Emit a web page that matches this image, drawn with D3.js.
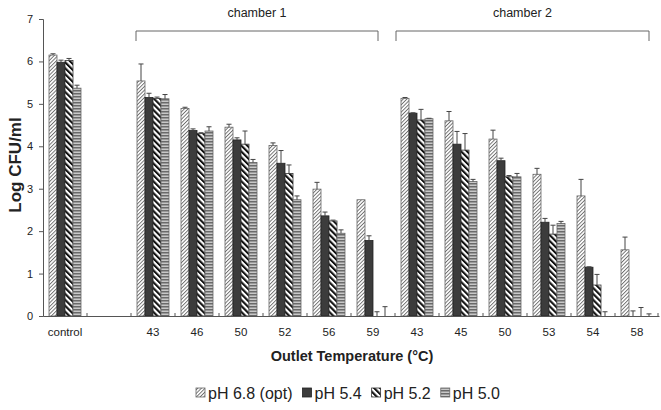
<!DOCTYPE html>
<html><head><meta charset="utf-8">
<script src="https://cdn.jsdelivr.net/npm/d3@7"></script>
<style>body{margin:0;background:#fff}svg{display:block;font-family:Arial,"Liberation Sans",sans-serif}</style>
</head><body><svg id="c" width="661" height="410"></svg>
<script>
const categories = ["control","","43","46","50","52","56","59","43","45","50","53","54","58"];
const seriesNames = ["pH 6.8 (opt)","pH 5.4","pH 5.2","pH 5.0"];
const ph68 = [6.15,null,5.54,4.89,4.45,4.02,2.99,2.74,5.13,4.60,4.17,3.34,2.83,1.56];
const ph68Err = [0.03,null,0.40,0.03,0.07,0.06,0.16,0.0,0.02,0.22,0.21,0.14,0.39,0.30];
const ph54 = [5.98,null,5.15,4.37,4.15,3.60,2.36,1.78,4.78,4.05,3.66,2.21,1.15,0.0];
const ph54Err = [0.05,null,0.10,0.04,0.05,0.30,0.09,0.11,0.01,0.30,0.06,0.09,0.01,0.12];
const ph52 = [6.02,null,5.13,4.30,4.05,3.36,2.24,0.0,4.62,3.91,3.28,1.93,0.73,0.0];
const ph52Err = [0.05,null,0.03,0.02,0.31,0.20,0.02,0.10,0.25,0.39,0.03,0.21,0.25,0.20];
const ph50 = [5.37,null,5.12,4.36,3.62,2.74,1.95,0.0,4.65,3.17,3.28,2.18,0.0,0.0];
const ph50Err = [0.07,null,0.10,0.10,0.07,0.09,0.08,0.22,0.01,0.05,0.08,0.05,0.10,0.05];
const yTicks = [0,1,2,3,4,5,6,7];
const chamberLabels = ["chamber 1","chamber 2"];
const chamberFrom = [2, 8];
const chamberTo = [7, 13];

const values = [ph68, ph54, ph52, ph50];
const errs = [ph68Err, ph54Err, ph52Err, ph50Err];

const svg = d3.select("#c");
const defs = svg.append("defs");
let p = defs.append("pattern").attr("id","p0").attr("patternUnits","userSpaceOnUse")
  .attr("width",2.6).attr("height",2.6).attr("patternTransform","rotate(45)");
p.append("rect").attr("width",2.6).attr("height",2.6).attr("fill","#fff");
p.append("line").attr("x1",0.5).attr("y1",0).attr("x2",0.5).attr("y2",2.6).attr("stroke","#555").attr("stroke-width",0.8);
p = defs.append("pattern").attr("id","p2").attr("patternUnits","userSpaceOnUse")
  .attr("width",4.2).attr("height",4.2).attr("patternTransform","rotate(-45)");
p.append("rect").attr("width",4.2).attr("height",4.2).attr("fill","#fff");
p.append("rect").attr("x",0).attr("y",0).attr("width",2.1).attr("height",4.2).attr("fill","#111");
p = defs.append("pattern").attr("id","p3").attr("patternUnits","userSpaceOnUse")
  .attr("width",4).attr("height",3);
p.append("rect").attr("width",4).attr("height",3).attr("fill","#c8c8c8");
p.append("rect").attr("y",0).attr("width",4).attr("height",1.5).attr("fill","#6a6a6a");

const fills = ["url(#p0)","#3c3c3c","url(#p2)","url(#p3)"];
const strokes = ["#666","#222","#333","#666"];

const mLeft = 43, mRight = 659, mTop = 19, mBase = 316;
const x = d3.scaleBand().domain(d3.range(categories.length)).range([mLeft,mRight]).padding(0);
const xs = d3.scaleBand().domain(d3.range(4)).range([6, x.bandwidth()-6]).padding(0);
const y = d3.scaleLinear().domain([0,7]).range([mBase, mTop]);

const yAxis = d3.axisLeft(y).tickValues(yTicks).tickSize(4).tickPadding(6).tickFormat(d3.format("d"));
const yg = svg.append("g").attr("transform",`translate(${mLeft},0)`).call(yAxis);
yg.select(".domain").attr("stroke","#555");
yg.selectAll(".tick line").attr("stroke","#555");
yg.selectAll(".tick text").attr("font-size",11).attr("fill","#222");

categories.forEach((c,i)=>{
  if (values[0][i]===null) return;
  const g = svg.append("g").attr("transform",`translate(${x(i)},0)`);
  values.forEach((arr,s)=>{
    const v = arr[i];
    const bx = xs(s), bw = xs.bandwidth();
    g.append("rect").attr("x",bx).attr("y",y(v)).attr("width",bw).attr("height",Math.max(0,y(0)-y(v)))
      .attr("fill",fills[s]).attr("stroke",strokes[s]).attr("stroke-width",0.8);
    const e = errs[s][i];
    if (e>0.005){
      const cx = bx + bw/2;
      g.append("line").attr("x1",cx).attr("x2",cx).attr("y1",y(v)).attr("y2",y(v+e)).attr("stroke","#444").attr("stroke-width",1);
      g.append("line").attr("x1",cx-2.5).attr("x2",cx+2.5).attr("y1",y(v+e)).attr("y2",y(v+e)).attr("stroke","#444").attr("stroke-width",1);
    }
  });
});

const xAxis = d3.axisBottom(x).tickSize(0).tickPadding(12).tickFormat(i=>categories[i]);
const xg = svg.append("g").attr("transform",`translate(0,${mBase})`).call(xAxis);
xg.select(".domain").attr("stroke","#555");
xg.selectAll(".tick text").attr("font-size",11.5).attr("fill","#222");
d3.range(1,categories.length+1).forEach(k=>{
  const tx = k<categories.length ? x(k) : mRight-1;
  svg.append("line").attr("x1",tx).attr("x2",tx).attr("y1",mBase).attr("y2",mBase-3).attr("stroke","#555");
});

const bracketEnds = [[5,27],[1,34]];
chamberLabels.forEach((lab,k)=>{
  const x0 = x(chamberFrom[k])+bracketEnds[k][0], x1 = x(chamberTo[k])+bracketEnds[k][1];
  const by = 31;
  svg.append("path").attr("d",`M${x0},${by+10}V${by}H${x1}V${by+10}`).attr("fill","none").attr("stroke","#666").attr("stroke-width",1);
  svg.append("text").attr("x",(x0+x1)/2).attr("y",17).attr("text-anchor","middle").attr("font-size",12.5).attr("fill","#222").text(lab);
});

svg.append("text").attr("transform","translate(21,165) rotate(-90)").attr("text-anchor","middle")
  .attr("font-size",17).attr("font-weight","bold").attr("fill","#222").text("Log CFU/ml");
svg.append("text").attr("x",352).attr("y",361).attr("text-anchor","middle")
  .attr("font-size",14.5).attr("font-weight","bold").attr("fill","#222").text("Outlet Temperature (°C)");

const lg = svg.append("g").attr("transform","translate(196,393)");
let lx = 0;
seriesNames.forEach((n,s)=>{
  const g = lg.append("g").attr("transform",`translate(${lx},0)`);
  g.append("rect").attr("x",0).attr("y",-5).attr("width",9).attr("height",9).attr("fill",fills[s]).attr("stroke",strokes[s]).attr("stroke-width",0.8);
  const t = g.append("text").attr("x",12).attr("y",5.5).attr("font-size",16).attr("fill","#222").text(n);
  lx += 12 + t.node().getComputedTextLength() + 10;
});
</script></body></html>
